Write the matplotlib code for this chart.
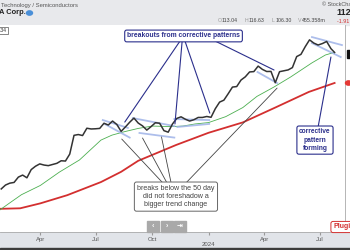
import numpy as np
import pandas as pd
import matplotlib
matplotlib.use("Agg")
import matplotlib.pyplot as plt
from matplotlib.patches import Rectangle, Circle

plt.rcParams["font.family"] = ["Liberation Sans", "DejaVu Sans"]

# weekly closes (split adjusted), last bar is Thu Jul 25 2024
week_dates = list(pd.date_range("2023-01-27", "2024-07-19", freq="W-FRI")) + [pd.Timestamp("2024-07-25")]
closes = [
    19.6, 20.6, 21.1, 21.3, 22.8, 23.4, 22.6, 25.1, 26.2, 27.0,
    26.6, 26.4, 26.8, 27.2, 28.1, 28.0, 30.6, 38.9, 39.3, 38.8,
    42.6, 42.2, 42.3, 42.5, 45.4, 44.4, 46.7, 44.7, 40.9, 43.3,
    46.0, 48.5, 45.5, 43.9, 41.6, 43.5, 45.7, 45.4, 41.3, 40.5,
    45.0, 48.3, 49.3, 47.8, 46.7, 47.5, 48.9, 48.9, 49.5, 49.0,
    54.7, 59.5, 61.0, 66.2, 72.1, 72.6, 78.9, 82.2, 87.5, 87.9,
    94.3, 90.4, 88.0, 88.1, 76.2, 87.8, 88.8, 89.8, 92.5, 106.5,
    109.6, 120.9, 131.9, 126.6, 123.5, 125.8, 129.2, 117.9, 112.28,
]
assert len(week_dates) == len(closes)

ma50_dates = pd.to_datetime([
    "2023-01-25", "2023-02-10", "2023-03-01", "2023-04-01", "2023-05-02", "2023-06-04",
    "2023-07-09", "2023-07-27", "2023-08-17", "2023-09-08", "2023-10-01", "2023-11-01",
    "2023-11-20", "2023-12-10", "2024-01-01", "2024-01-29", "2024-02-26", "2024-03-20",
    "2024-04-17", "2024-05-14", "2024-06-18", "2024-07-10", "2024-07-25",
])
ma50 = [15.0, 16.4, 18.2, 20.5, 24.3, 28.4, 36.6, 39.0, 40.8, 42.5, 43.8, 43.5,
        43.8, 45.0, 45.8, 49.4, 55.5, 64.0, 72.2, 82.0, 98.3, 108.7, 112.5]

ma200_dates = pd.to_datetime([
    "2023-01-25", "2023-02-27", "2023-04-01", "2023-05-15", "2023-07-09", "2023-08-11",
    "2023-09-08", "2023-11-09", "2024-01-01", "2024-02-26", "2024-04-20", "2024-06-13",
    "2024-07-25",
])
ma200 = [15.2, 15.3, 16.3, 18.1, 21.4, 24.4, 28.1, 34.4, 40.2, 45.9, 55.7, 67.8, 76.0]

# corrective pattern channels: (start date, start price, end date, end price)
channels = [
    ("2023-07-12", 47.3, "2023-08-22", 42.8),
    ("2023-07-15", 45.0, "2023-08-25", 37.8),
    ("2023-08-30", 48.5, "2023-11-06", 43.8),
    ("2023-09-10", 40.1, "2023-11-06", 37.8),
    ("2023-11-06", 47.9, "2024-01-02", 47.3),
    ("2023-11-11", 43.3, "2024-01-02", 45.0),
    ("2024-03-21", 87.4, "2024-04-22", 75.9),
    ("2024-06-18", 136.7, "2024-08-06", 123.4),
    ("2024-06-18", 126.6, "2024-08-04", 105.9),
]

# annotation targets (date, price) and where the lines leave the boxes (axes fraction)
breakout_pts = [("2023-08-17", 46.1), ("2023-11-07", 45.0), ("2024-01-03", 51.7), ("2024-04-17", 89.7)]
breakout_from = [(0.522, 0.923), (0.528, 0.923), (0.536, 0.923), (0.623, 0.923)]
dip_pts = [("2023-08-12", 37.1), ("2023-09-15", 37.6), ("2023-10-16", 38.1), ("2024-04-22", 71.2)]
dip_from = [(0.472, 0.237), (0.484, 0.237), (0.496, 0.237), (0.539, 0.237)]
forming_pt = ("2024-07-19", 105.9)

x_ticks = pd.to_datetime(["2023-04-01", "2023-07-01", "2023-10-01", "2024-01-01", "2024-04-01", "2024-07-01"])
x_labels = ["Apr", "Jul", "Oct", "", "Apr", "Jul"]

navy = "#2b2f8c"

fig = plt.figure(figsize=(3.5, 2.5), dpi=100)
fig.patch.set_facecolor("white")
W, H = 350.0, 250.0

# header, axis strip and bottom band
fig.add_artist(Rectangle((0, 1 - 25 / H), 1, 25 / H, transform=fig.transFigure, color="#e8e9ec", zorder=0))
fig.add_artist(Rectangle((0, 0), 1, 18 / H, transform=fig.transFigure, color="#e1e4e9", zorder=0))
fig.add_artist(Rectangle((0, 0), 1, 2.5 / H, transform=fig.transFigure, color="#3c3c3c", zorder=1))

ax = fig.add_axes([0, 18 / H, 345 / W, 207 / H])
ax.set_facecolor("white")
ax.set_yscale("log")
ax.set_ylim(11.3, 159.5)
ax.set_xlim(pd.Timestamp("2023-01-25"), pd.Timestamp("2024-08-11"))

ax.plot(ma200_dates, ma200, color="#d32f2f", lw=1.3, zorder=2)
ax.plot(ma50_dates, ma50, color="#4caf50", lw=0.6, zorder=2)
ax.plot(week_dates, closes, color="#333333", lw=1.1, zorder=3)

for d0, p0, d1, p1 in channels:
    ax.plot(pd.to_datetime([d0, d1]), [p0, p1], color="#9fb3e8", lw=1.3, alpha=0.85, zorder=2.5)

for (d, p), xy in zip(breakout_pts, breakout_from):
    ax.annotate("", xy=(pd.Timestamp(d), p), xytext=xy, textcoords="axes fraction",
                arrowprops=dict(arrowstyle="-", color=navy, lw=0.8, shrinkA=0, shrinkB=0), zorder=4)
for (d, p), xy in zip(dip_pts, dip_from):
    ax.annotate("", xy=(pd.Timestamp(d), p), xytext=xy, textcoords="axes fraction",
                arrowprops=dict(arrowstyle="-", color="#444444", lw=0.6, shrinkA=0, shrinkB=0), zorder=4)
ax.annotate("", xy=(pd.Timestamp(forming_pt[0]), forming_pt[1]), xytext=(0.922, 0.507),
            textcoords="axes fraction",
            arrowprops=dict(arrowstyle="-", color=navy, lw=0.8, shrinkA=0, shrinkB=0), zorder=4)

ax.text(0.532, 0.947, "breakouts from corrective patterns", transform=ax.transAxes,
        ha="center", va="center", fontsize=4.9, fontweight="bold", color=navy, zorder=5,
        bbox=dict(boxstyle="round,pad=0.35,rounding_size=0.3", fc="white", ec=navy, lw=0.8))
ax.text(0.510, 0.171, "breaks below the 50 day\ndid not foreshadow a\nbigger trend change",
        transform=ax.transAxes, ha="center", va="center", fontsize=5.1, color="#444444",
        linespacing=1.25, zorder=5,
        bbox=dict(boxstyle="round,pad=0.4,rounding_size=0.3", fc="white", ec="#666666", lw=0.7))
ax.text(0.913, 0.444, "corrective\npattern\nforming", transform=ax.transAxes,
        ha="center", va="center", fontsize=4.8, fontweight="bold", color=navy,
        linespacing=1.25, zorder=5,
        bbox=dict(boxstyle="round,pad=0.35,rounding_size=0.3", fc="white", ec=navy, lw=0.8))

ax.set_xticks(x_ticks)
ax.set_xticklabels(x_labels)
ax.tick_params(axis="x", length=2, color="#999999", labelsize=4.3, labelcolor="#555555", pad=1.5)
ax.text(pd.Timestamp("2024-01-01"), -0.058, "2024", transform=ax.get_xaxis_transform(),
        ha="center", va="center", fontsize=4.3, color="#555555")
ax.set_yticks([])
ax.yaxis.set_minor_locator(matplotlib.ticker.NullLocator())
for side in ["left", "top"]:
    ax.spines[side].set_visible(False)
ax.spines["bottom"].set_color("#aaaaaa")
ax.spines["right"].set_color("#aaaaaa")
ax.spines["bottom"].set_linewidth(0.6)
ax.spines["right"].set_linewidth(0.6)

# small cropped price label at top left
ax.text(7 / 345, 1 - 5 / 207, ".34", transform=ax.transAxes, ha="right", va="center",
        fontsize=3.6, color="#333333",
        bbox=dict(boxstyle="square,pad=0.2", fc="white", ec="#555555", lw=0.5))

# header texts
fig.text(1 / W, 1 - 5 / H, "Technology / Semiconductors", fontsize=4.2, color="#555555", va="center")
fig.text(26 / W, 1 - 13 / H, "NVIDIA Corp.", fontsize=5.4, fontweight="bold", color="#222222",
         ha="right", va="center")
fig.add_artist(Circle((29.5 / W, 1 - 13 / H), 3 / W, transform=fig.transFigure, color="#4a8fd8"))
fig.text(322 / W, 1 - 5 / H, "© StockCharts.com", fontsize=4.0, color="#555555", va="center")
fig.text(336 / W, 1 - 12.5 / H, "112.28", fontsize=6.5, fontweight="bold", color="#222222", va="center")
ohlc = [("O", 218, "113.04"), ("H", 245, "116.63"), ("L", 272, "106.30"), ("V", 298, "455.358m")]
for lab, x, val in ohlc:
    fig.text(x / W, 1 - 21 / H, lab, fontsize=3.8, color="#999999", va="center")
    fig.text((x + 4) / W, 1 - 21 / H, val, fontsize=3.8, color="#444444", va="center")
fig.text(337 / W, 1 - 21 / H, "-1.91 (-1.67%)", fontsize=3.8, color="#d32f2f", va="center")

# right strip bits
fig.add_artist(Circle((348.5 / W, 1 - 83 / H), 3 / W, transform=fig.transFigure, color="#e53935"))
fig.add_artist(Rectangle((346.5 / W, 1 - 58 / H), 5 / W, 8 / H, transform=fig.transFigure, color="#111111"))

# navigation buttons
for i, sym in enumerate(["‹", "›", "⇥"]):
    x0 = 147 + i * 13.5
    fig.add_artist(Rectangle((x0 / W, 1 - 232 / H), 12 / W, 11 / H, transform=fig.transFigure,
                             color="#a9a9a9", zorder=3))
    fig.text((x0 + 6) / W, 1 - 226.5 / H, sym, fontsize=5, color="white", ha="center", va="center",
             fontweight="bold", zorder=4)

fig.text(333 / W, 1 - 227 / H, "Plugins", fontsize=5, fontweight="bold", color="#d32f2f", va="center",
         bbox=dict(boxstyle="round,pad=0.3", fc="white", ec="#d32f2f", lw=0.7))

fig.savefig("out.png", dpi=100)
